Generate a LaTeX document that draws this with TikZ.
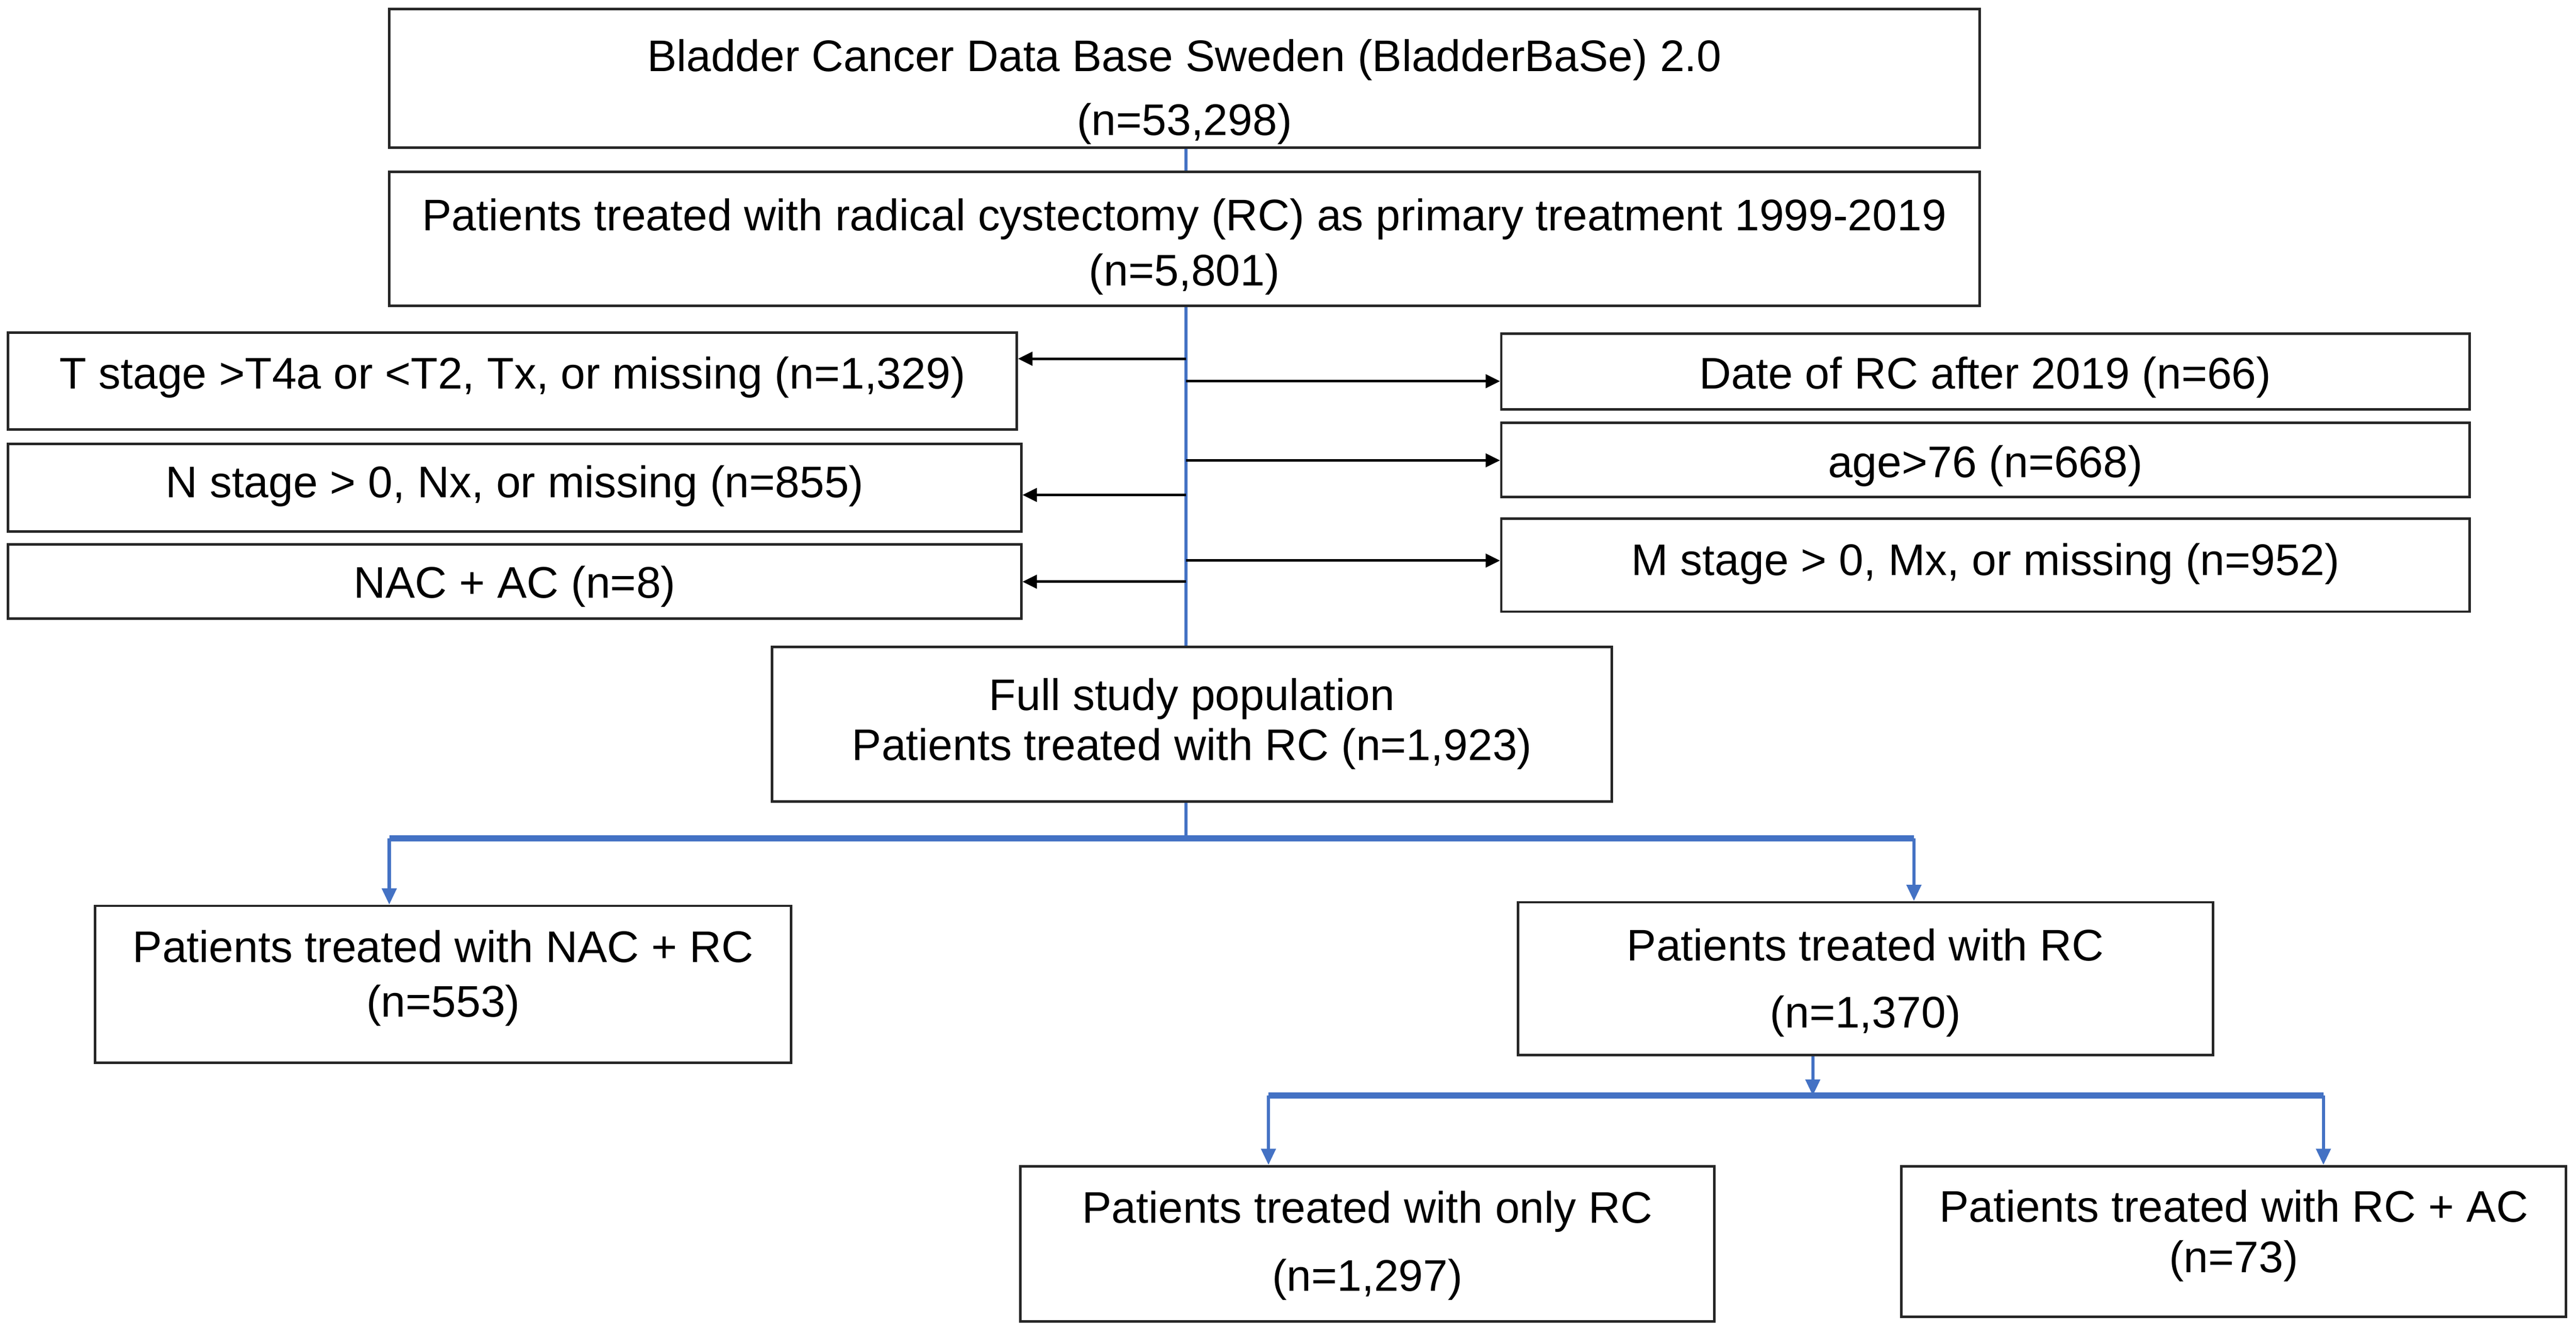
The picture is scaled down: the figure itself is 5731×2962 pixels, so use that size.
\documentclass[tikz,border=0pt]{standalone}
\usepackage{fontspec}
\setmainfont{Liberation Sans}
\usetikzlibrary{arrows.meta}
\definecolor{flowblue}{RGB}{68,114,196}
\newcommand{\boxlines}[3]{\begin{tabular}[b]{@{}c@{}}#1\\[#3]#2\end{tabular}}

\begin{document}
\begin{tikzpicture}[x=0.05mm, y=-0.05mm,
	box/.style={draw=black!85, line width=0.8pt, inner sep=0pt, text depth=0pt, font=\fontsize{14}{15.5}\selectfont},
	exclude/.style={draw=black, line width=0.8pt, -{Triangle[length=1.6mm,width=1.5mm]}},
	trunk/.style={draw=flowblue, line width=1pt},
	branch/.style={draw=flowblue, line width=2pt},
	down/.style={draw=flowblue, line width=1pt, -{Triangle[length=1.8mm,width=1.6mm]}}]
					\useasboundingbox (0,0) rectangle (5731,2962);
					
					\node[box, minimum width=176.9mm, minimum height=15.4mm, text height=12.7mm] (base) at (2635,174){\boxlines{Bladder Cancer Data Base Sweden (BladderBaSe) 2.0}{(n=53,298)}{4.8pt}};
					\node[box, minimum width=176.9mm, minimum height=14.9mm, text height=10.5mm] (rcall) at (2635,531){\boxlines{Patients treated with radical cystectomy (RC) as primary treatment 1999-2019}{(n=5,801)}{2pt}};
					
					\node[box, minimum width=112.2mm, minimum height=10.75mm, text height=1.75mm] (tstage) at (1140,847.5){T stage >T4a or <T2, Tx, or missing (n=1,329)};
					\node[box, minimum width=112.7mm, minimum height=9.75mm, text height=2.25mm] (nstage) at (1145,1084.5){N stage > 0, Nx, or missing (n=855)};
					\node[box, minimum width=112.7mm, minimum height=8.25mm, text height=3.65mm] (nacac) at (1145,1293.5){NAC + AC (n=8)};
					\node[box, minimum width=107.7mm, minimum height=8.4mm, text height=3.85mm] (date) at (4417,826.5){Date of RC after 2019 (n=66)};
					\node[box, minimum width=107.7mm, minimum height=8.25mm, text height=3.9mm] (age) at (4417,1022.5){age>76 (n=668)};
					\node[box, minimum width=107.7mm, minimum height=10.35mm, text height=2.3mm] (mstage) at (4417,1257){M stage > 0, Mx, or missing (n=952)};
					
					\node[box, minimum width=93.4mm, minimum height=17.2mm, text height=8mm] (full) at (2652,1611){\boxlines{Full study population}{Patients treated with RC (n=1,923)}{0.3pt}};
					
					\node[box, minimum width=77.4mm, minimum height=17.45mm, text height=7.25mm] (nacrc) at (986,2189.5){\boxlines{Patients treated with NAC + RC}{(n=553)}{1.85pt}};
					\node[box, minimum width=77.3mm, minimum height=17mm, text height=10.9mm] (rconly) at (4150,2177){\boxlines{Patients treated with RC}{(n=1,370)}{5.7pt}};
					\node[box, minimum width=77.2mm, minimum height=17.25mm, text height=10.55mm] (onlyrc) at (3042,2766.5){\boxlines{Patients treated with only RC}{(n=1,297)}{6.1pt}};
					\node[box, minimum width=73.95mm, minimum height=16.75mm, text height=6.85mm] (rcac) at (4969.5,2761.5){\boxlines{Patients treated with RC + AC}{(n=73)}{0.4pt}};
					
					\coordinate (x1) at (2639,798);
					\coordinate (x2) at (2639,848);
					\coordinate (x3) at (2639,1024);
					\coordinate (x4) at (2639,1101);
					\coordinate (x5) at (2639,1247);
					\coordinate (x6) at (2639,1294);
					\coordinate (j0) at (2639,1865);
					\coordinate (b1) at (866,1865);
					\coordinate (b2) at (4258,1865);
					\coordinate (j1) at (4033,2437);
					\coordinate (c1) at (2822,2437);
					\coordinate (c2) at (5169,2437);
					
					\draw[trunk] (base.south -| x1) -- (rcall.north -| x1);
					\draw[trunk] (rcall.south -| x1) -- (full.north -| x1);
					
					\draw[exclude] (x1) -- (x1 -| tstage.east);
					\draw[exclude] (x4) -- (x4 -| nstage.east);
					\draw[exclude] (x6) -- (x6 -| nacac.east);
					\draw[exclude] (x2) -- (x2 -| date.west);
					\draw[exclude] (x3) -- (x3 -| age.west);
					\draw[exclude] (x5) -- (x5 -| mstage.west);
					
					\draw[trunk] (full.south -| j0) -- (j0);
					\draw[branch] (b1) -- (b2);
					\draw[down] (b1) -- (b1 |- nacrc.north);
					\draw[down] (b2) -- (b2 |- rconly.north);
					
					\draw[down] (rconly.south -| j1) -- (j1);
					\draw[branch] (c1) -- (c2);
					\draw[down] (c1) -- (c1 |- onlyrc.north);
					\draw[down] (c2) -- (c2 |- rcac.north);
\end{tikzpicture}
\end{document}
